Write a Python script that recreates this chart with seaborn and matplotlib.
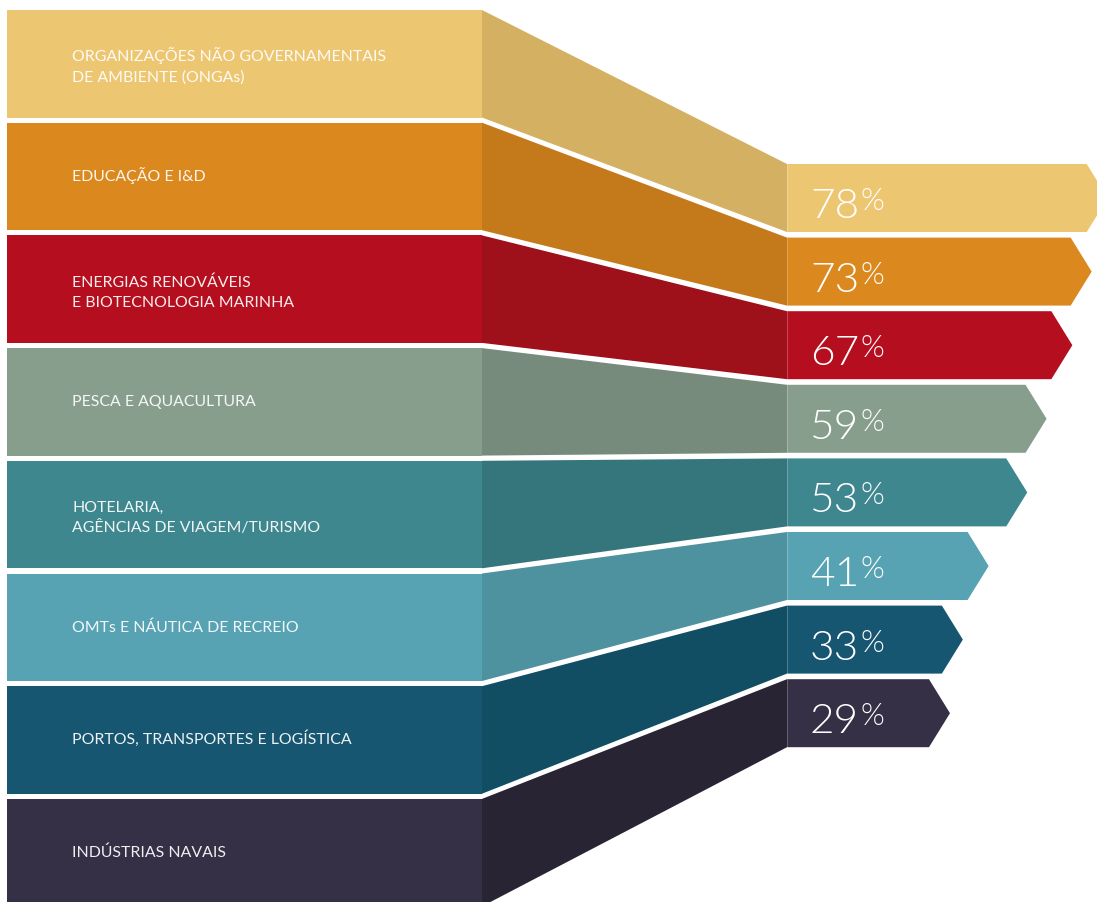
import matplotlib
matplotlib.use("Agg")
import matplotlib.pyplot as plt
from matplotlib.patches import Polygon
import seaborn as sns

# ---- data -------------------------------------------------------------
sectors = [
    "ORGANIZAÇÕES NÃO GOVERNAMENTAIS\nDE AMBIENTE (ONGAs)",
    "EDUCAÇÃO E I&D",
    "ENERGIAS RENOVÁVEIS\nE BIOTECNOLOGIA MARINHA",
    "PESCA E AQUACULTURA",
    "HOTELARIA,\nAGÊNCIAS DE VIAGEM/TURISMO",
    "OMTs E NÁUTICA DE RECREIO",
    "PORTOS, TRANSPORTES E LOGÍSTICA",
    "INDÚSTRIAS NAVAIS",
]
shares = [78, 73, 67, 59, 53, 41, 33, 29]

# ---- colours ----------------------------------------------------------
block_colors = sns.color_palette([
    "#EDC672", "#DB891F", "#B50E1E", "#889E8C",
    "#3F878F", "#57A3B3", "#175670", "#353045",
])
ribbon_colors = sns.color_palette([
    "#D4B063", "#C47A1B", "#9E101A", "#768B7B",
    "#35767C", "#4E919F", "#114E64", "#282433",
])

sns.set_theme(style="white")
plt.rcParams["font.family"] = ["Lato", "DejaVu Sans"]

# ---- layout (x in percentage points, y in figure pixels from the top) --
W, H = 1097, 902
PX_PER_PT = 3.22          # horizontal pixels per percentage point
ZERO_PX = 856.6           # pixel column of 0 %
def xp(px):
    return (px - ZERO_PX) / PX_PER_PT

LEFT_X0, LEFT_X1 = xp(7), xp(482)
BAR_X0 = xp(787)
TIP = 21 / PX_PER_PT
LABEL_X = xp(72)
NUM_X = xp(810)

ROW_TOP0, ROW_STEP, ROW_H = 10.0, 112.7, 107.5
BAR_TOP0, BAR_STEP, BAR_H = 164.0, 73.6, 68.0

fig = plt.figure(figsize=(W / 100, H / 100), dpi=100)
ax = fig.add_axes([0, 0, 1, 1])
ax.set_xlim(xp(0), xp(W))
ax.set_ylim(H, 0)
ax.axis("off")

for i, (name, v) in enumerate(zip(sectors, shares)):
    lt = ROW_TOP0 + i * ROW_STEP
    lb = lt + ROW_H
    rt = BAR_TOP0 + i * BAR_STEP
    rb = rt + BAR_H
    rm = (rt + rb) / 2

    # sector block on the left
    ax.add_patch(Polygon([(LEFT_X0, lt), (LEFT_X1, lt), (LEFT_X1, lb), (LEFT_X0, lb)],
                         closed=True, facecolor=block_colors[i], edgecolor="none"))
    # shaded ribbon linking the block to its bar
    ax.add_patch(Polygon([(LEFT_X1, lt), (BAR_X0, rt), (BAR_X0, rb), (LEFT_X1, lb)],
                         closed=True, facecolor=ribbon_colors[i], edgecolor="none"))
    # arrow-shaped bar ending at the share value
    ax.add_patch(Polygon([(BAR_X0, rt), (v - TIP, rt), (v, rm), (v - TIP, rb), (BAR_X0, rb)],
                         closed=True, facecolor=block_colors[i], edgecolor="none"))
    ax.plot([BAR_X0, BAR_X0], [rt, rb], color="white", alpha=0.25, lw=0.7)

    # sector name
    lines = name.split("\n")
    n = len(lines)
    first = lt + (58 if n == 1 else 51.5)
    for k, line in enumerate(lines):
        ax.text(LABEL_X, first + k * 20, line, color="white", alpha=0.92,
                fontsize=11.4, ha="left", va="baseline")

    # share value with a raised percent sign
    num = ax.text(NUM_X, rt + 54, f"{v}", color="white", fontsize=30.5,
                  fontweight=300, ha="left", va="baseline")
    ax.annotate("%", xy=(1.0, rt + 46), xycoords=(num, "data"),
                xytext=(1, 0), textcoords="offset points",
                color="white", fontsize=22, fontweight=300,
                ha="left", va="baseline")

fig.savefig("out.png", dpi=100, facecolor="white")
